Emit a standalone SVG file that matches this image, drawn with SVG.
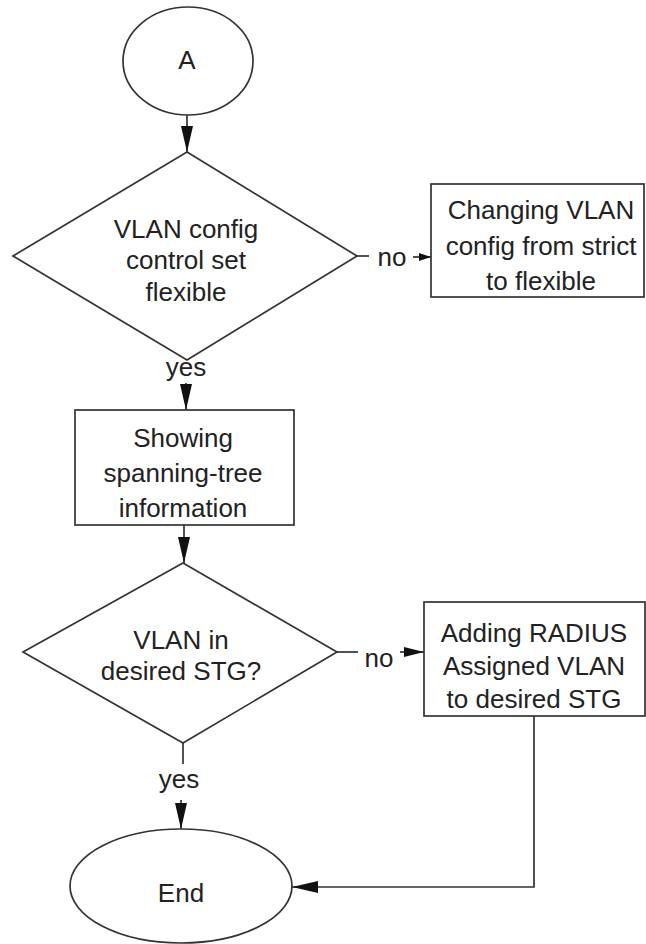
<svg xmlns="http://www.w3.org/2000/svg" width="646" height="944" viewBox="0 0 646 944">
<defs>
<style>
.shape{fill:#fff;stroke:#333;stroke-width:1.7}
.conn{fill:none;stroke:#333;stroke-width:1.7}
text{font-family:"Liberation Sans",Arial,sans-serif;font-size:26px;fill:#222;text-anchor:middle}
</style>
<marker id="arr" viewBox="0 0 26 12" refX="26" refY="6" markerWidth="26" markerHeight="12" markerUnits="userSpaceOnUse" orient="auto"><path d="M0,0 L26,6 L0,12 z" fill="#111"/></marker>
<marker id="arrM" viewBox="0 0 20 10" refX="20" refY="5" markerWidth="20" markerHeight="10" markerUnits="userSpaceOnUse" orient="auto"><path d="M0,0 L20,5 L0,10 z" fill="#111"/></marker>
<marker id="arrS" viewBox="0 0 12 8" refX="12" refY="4" markerWidth="12" markerHeight="8" markerUnits="userSpaceOnUse" orient="auto"><path d="M0,0 L12,4 L0,8 z" fill="#111"/></marker>
</defs>
<rect width="646" height="944" fill="#fff"/>
<g id="connectors">
<path class="conn" d="M187,115 L187,152" marker-end="url(#arr)"/>
<path class="conn" d="M357,256 L369,256"/>
<text x="392" y="266">no</text>
<path class="conn" d="M413,257 L431,257" marker-end="url(#arrS)"/>
<text x="186" y="376">yes</text>
<path class="conn" d="M186,383 L186,410" marker-end="url(#arr)"/>
<path class="conn" d="M184,525 L184,563" marker-end="url(#arr)"/>
<path class="conn" d="M337,652 L358,652"/>
<text x="379" y="667">no</text>
<path class="conn" d="M400,652 L424,652" marker-end="url(#arrM)"/>
<path class="conn" d="M183,743 L183,764"/>
<text x="179" y="788">yes</text>
<path class="conn" d="M181,800 L181,829" marker-end="url(#arr)"/>
<path class="conn" d="M534,716 L534,887 L292,887" marker-end="url(#arr)"/>
</g>
<g id="start">
<ellipse class="shape" cx="188" cy="61" rx="65" ry="54"/>
<text x="187" y="69">A</text>
</g>
<g id="decision1">
<polygon class="shape" points="187,152 357,256 187,360 13,256"/>
<text x="186" y="238">VLAN config</text>
<text x="186" y="269">control set</text>
<text x="186" y="301">flexible</text>
</g>
<g id="change-config">
<rect class="shape" x="431" y="184" width="213" height="113"/>
<text x="541" y="219">Changing VLAN</text>
<text x="541" y="255">config from strict</text>
<text x="541" y="290">to flexible</text>
</g>
<g id="show-stp">
<rect class="shape" x="75" y="410" width="219" height="115"/>
<text x="183" y="447">Showing</text>
<text x="183" y="482">spanning-tree</text>
<text x="183" y="517">information</text>
</g>
<g id="decision2">
<polygon class="shape" points="183,563 337,652 183,743 23,652"/>
<text x="181" y="649">VLAN in</text>
<text x="181" y="680">desired STG?</text>
</g>
<g id="add-radius">
<rect class="shape" x="424" y="602" width="221" height="114"/>
<text x="534" y="642">Adding RADIUS</text>
<text x="534" y="675">Assigned VLAN</text>
<text x="534" y="708">to desired STG</text>
</g>
<g id="end">
<ellipse class="shape" cx="181" cy="886" rx="111" ry="57"/>
<text x="181" y="902">End</text>
</g>
</svg>
